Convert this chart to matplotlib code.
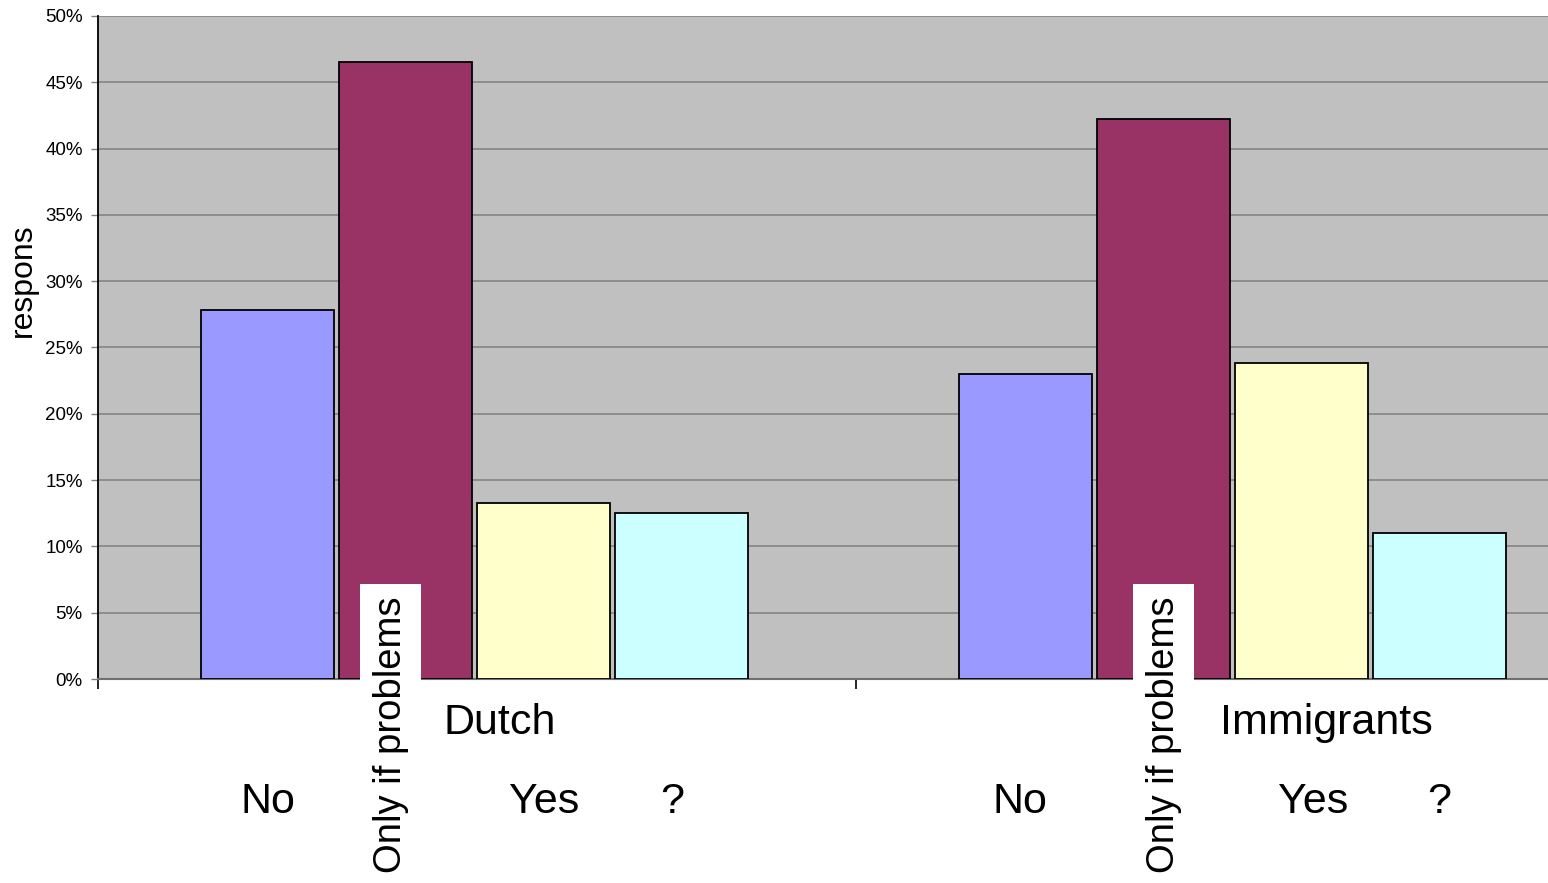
import numpy as np
import matplotlib.pyplot as plt
from matplotlib.ticker import MultipleLocator, FuncFormatter
import matplotlib.transforms as mtransforms

plt.rcParams['font.family'] = ['Liberation Sans', 'DejaVu Sans']

groups = ['Dutch', 'Immigrants']
answers = ['No', 'Only if problems', 'Yes', '?']
# share of respondents per answer, in percent
dutch = [27.8, 46.5, 13.3, 12.5]
immigrants = [23.0, 42.2, 23.8, 11.0]
colors = ['#9999FF', '#993366', '#FFFFCC', '#CCFFFF']

values = np.array([dutch, immigrants]) / 100.0

fig = plt.figure(figsize=(15.48, 8.83), dpi=100)
W, H = 1548, 883
ax = fig.add_axes([98 / W, (H - 679) / H, (1614 - 98) / W, (679 - 16) / H])
ax.set_facecolor('#C0C0C0')

x = np.arange(len(groups)) - 0.003
step = 0.182
width = 0.175
for i, ans in enumerate(answers):
    ax.bar(x + (i - 1.5) * step, values[:, i], width=width, color=colors[i],
           edgecolor='black', linewidth=1.3, zorder=3)

ax.set_xlim(-0.5, 1.5)
ax.set_ylim(0, 0.5)
ax.yaxis.set_major_locator(MultipleLocator(0.05))
ax.yaxis.set_major_formatter(FuncFormatter(lambda v, p: f'{v * 100:.0f}%'))
ax.grid(axis='y', color='#808080', linewidth=1.1, zorder=0)
ax.set_axisbelow(True)

ax.set_xticks([-0.5, 0.5, 1.5])
ax.set_xticklabels([])
ax.tick_params(axis='x', direction='out', length=7, width=1.2, color='black')
ax.tick_params(axis='y', direction='out', length=5, width=1, color='#808080',
               labelsize=13.5, pad=6)

for side in ['top', 'right']:
    ax.spines[side].set_visible(False)
ax.spines['left'].set_color('black')
ax.spines['left'].set_linewidth(1.3)
ax.spines['bottom'].set_color('#707070')
ax.spines['bottom'].set_linewidth(1.5)

ax.set_ylabel('respons', fontsize=23)
ax.yaxis.set_label_coords(-0.0396, 0.602)

trans = mtransforms.blended_transform_factory(ax.transData, ax.transAxes)

# group names under the axis
group_label_x = [0.03, 1.12]
for gx, name in zip(group_label_x, groups):
    ax.text(gx, -0.066, name, transform=trans, ha='center', va='center',
            fontsize=31)

# small horizontal nudges for the answer names
nudge = [[0.0, -0.02, 0.0, -0.012], [-0.008, 0.0, 0.0145, 0.0]]

# answer names under each bar
for g in range(len(groups)):
    for i, ans in enumerate(answers):
        bx = x[g] + (i - 1.5) * step + nudge[g][i]
        if ans == 'Only if problems':
            ax.text(bx, -0.293, ans, transform=trans,
                    rotation=90, ha='center', va='bottom', fontsize=27.5,
                    bbox=dict(facecolor='white', edgecolor='none', pad=9),
                    zorder=5)
        else:
            ax.text(bx, -0.186, ans, transform=trans, ha='center',
                    va='center', fontsize=31)

fig.savefig('out.png', dpi=100)
